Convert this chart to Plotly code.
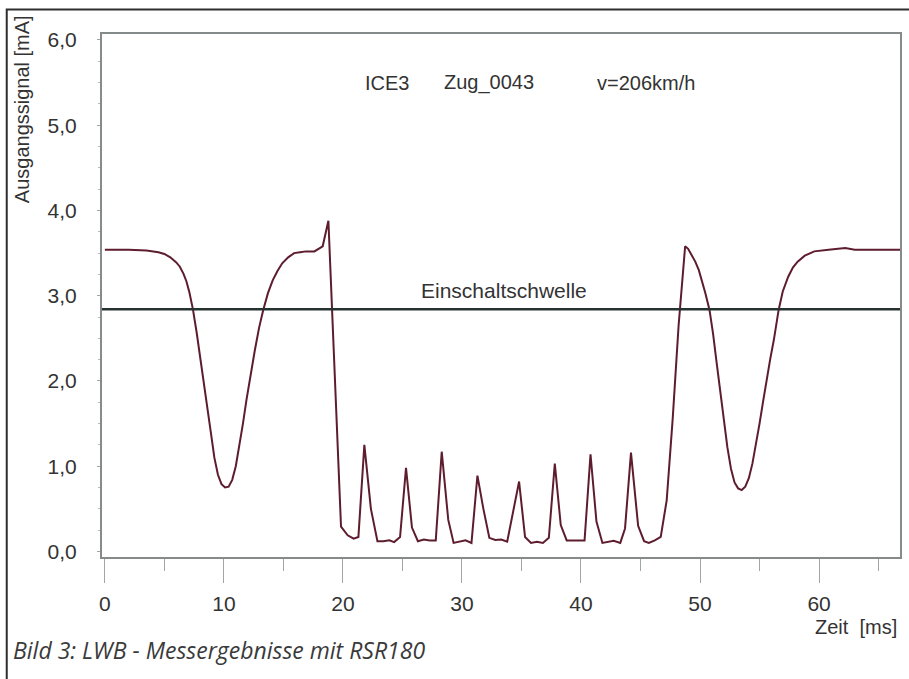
import plotly.graph_objects as go

# ---- data ----
time_ms = [0, 2, 3.5, 4.5, 5.0, 5.5, 6.0, 6.3, 6.6, 6.85, 7.1, 7.4, 7.7, 8.0, 8.3, 8.6,
           8.9, 9.2, 9.5, 9.8, 10.1, 10.4, 10.7, 11.0, 11.3, 11.6, 11.9, 12.2, 12.6,
           12.95, 13.3, 13.7, 14.1, 14.5, 14.9, 15.4, 15.9, 16.4, 16.9, 17.6, 18.3,
           18.78, 19.3, 19.84, 20.4, 20.9, 21.3, 21.8, 22.35, 22.9, 23.4, 23.9, 24.3,
           24.8, 25.3, 25.8, 26.3, 26.8, 27.3, 27.8, 28.3, 28.85, 29.3, 29.85, 30.3,
           30.8, 31.3, 31.8, 32.3, 32.8, 33.3, 33.8, 34.3, 34.8, 35.3, 35.8, 36.3,
           36.8, 37.3, 37.8, 38.3, 38.8, 39.3, 39.8, 40.3, 40.8, 41.3, 41.8, 42.3,
           42.75, 43.3, 43.7, 44.2, 44.8, 45.3, 45.7, 46.2, 46.7, 47.2, 47.7, 48.2,
           48.75, 49.0, 49.3, 49.6, 49.9, 50.15, 50.45, 50.8, 51.1, 51.4, 51.7, 52.0,
           52.3, 52.6, 52.9, 53.2, 53.5, 53.8, 54.1, 54.4, 54.7, 55.0, 55.3, 55.6,
           55.9, 56.2, 56.6, 56.95, 57.4, 57.8, 58.2, 58.8, 59.6, 60.8, 62.2, 63.0,
           66.8]
signal_mA = [3.54, 3.54, 3.53, 3.51, 3.49, 3.45, 3.39, 3.34, 3.26, 3.17, 3.04, 2.84, 2.58,
             2.30, 2.01, 1.71, 1.40, 1.10, 0.90, 0.79, 0.75, 0.76, 0.84, 1.00, 1.23, 1.50,
             1.78, 2.05, 2.36, 2.62, 2.83, 3.03, 3.18, 3.29, 3.38, 3.45, 3.50, 3.51, 3.52,
             3.52, 3.58, 3.88, 2.10, 0.29, 0.19, 0.15, 0.17, 1.25, 0.50, 0.12, 0.12, 0.13,
             0.11, 0.17, 0.98, 0.28, 0.12, 0.14, 0.13, 0.13, 1.17, 0.37, 0.10, 0.12, 0.13,
             0.10, 0.89, 0.50, 0.16, 0.135, 0.14, 0.115, 0.46, 0.82, 0.17, 0.10, 0.115,
             0.10, 0.16, 1.03, 0.31, 0.13, 0.13, 0.13, 0.13, 1.14, 0.35, 0.10, 0.115,
             0.125, 0.10, 0.27, 1.16, 0.30, 0.12, 0.10, 0.13, 0.17, 0.60, 1.55, 2.65,
             3.58, 3.55, 3.48, 3.40, 3.30, 3.18, 3.03, 2.83, 2.55, 2.21, 1.86, 1.53,
             1.22, 0.97, 0.81, 0.74, 0.72, 0.76, 0.86, 1.03, 1.25, 1.50, 1.76, 2.02,
             2.26, 2.48, 2.83, 3.05, 3.22, 3.33, 3.40, 3.47, 3.52, 3.54, 3.56, 3.54,
             3.54]
threshold_mA = 2.84
threshold_label = "Einschaltschwelle"
y_ticks = [0, 1, 2, 3, 4, 5, 6]
y_tick_labels = ["0,0", "1,0", "2,0", "3,0", "4,0", "5,0", "6,0"]
x_ticks = [0, 10, 20, 30, 40, 50, 60]
x_tick_labels = ["0", "10", "20", "30", "40", "50", "60"]
header_texts = ["ICE3", "Zug_0043", "v=206km/h"]
y_title = "Ausgangssignal [mA]"
x_title = "Zeit  [ms]"
caption = "Bild 3: LWB - Messergebnisse mit RSR180"

W, H = 909, 679
L, R, T, B = 102, 7, 34, 122
PW, PH = W - L - R, H - T - B


def px_x(p):
    return (p - L) / PW


def px_y(p):
    return (H - B - p) / PH


TXT = "#333333"
AX = "#858b8b"
FONT = "Liberation Sans"

fig = go.Figure()
fig.add_trace(go.Scatter(x=time_ms, y=signal_mA, mode="lines",
                         line=dict(color="#5e1d2e", width=2), showlegend=False,
                         hoverinfo="skip"))

fig.update_layout(
    width=W, height=H, margin=dict(l=L, r=R, t=T, b=B, pad=0),
    paper_bgcolor="white", plot_bgcolor="white",
    font=dict(family=FONT, size=20, color=TXT),
    xaxis=dict(range=[-0.24, 66.8], tickvals=x_ticks, ticktext=x_tick_labels,
               showgrid=False, zeroline=False, showline=True, linecolor=AX,
               linewidth=2, mirror=True, ticks="outside", ticklen=24, tickwidth=1.2,
               tickcolor="#a0a5a5", ticklabelstandoff=3,
               tickfont=dict(family=FONT, size=21, color=TXT),
               minor=dict(dtick=5, tick0=0, ticks="outside", ticklen=12,
                          tickwidth=1.2, tickcolor="#a0a5a5", showgrid=False)),
    yaxis=dict(range=[-0.065, 6.07], tickvals=y_ticks, ticktext=y_tick_labels,
               showgrid=False, zeroline=False, showline=True, linecolor=AX,
               linewidth=2, mirror=True, ticks="outside", ticklen=3, tickwidth=1.2,
               tickcolor="#a0a5a5", ticklabelstandoff=16,
               tickfont=dict(family=FONT, size=21, color=TXT),
               minor=dict(dtick=0.25, tick0=0, ticks="outside", ticklen=2,
                          tickwidth=1, tickcolor="#b5baba", showgrid=False)),
)

# threshold line
fig.add_shape(type="line", xref="paper", yref="y", x0=0, x1=1,
              y0=threshold_mA, y1=threshold_mA,
              line=dict(color="#263230", width=2.5), layer="above")

# outer frame
fig.add_shape(type="rect", xref="paper", yref="paper",
              x0=px_x(6.5), x1=px_x(960), y0=px_y(730), y1=px_y(9.5),
              line=dict(color="#2e2e2e", width=2), fillcolor="rgba(0,0,0,0)",
              layer="above")

ann = []
ann.append(dict(text=threshold_label, x=px_x(505), y=px_y(290), xref="paper", yref="paper",
                showarrow=False, xanchor="center", yanchor="middle",
                font=dict(family=FONT, size=21, color=TXT)))
for txt, xc in zip(header_texts, [388, 490, 647]):
    ann.append(dict(text=txt, x=px_x(xc), y=px_y(83), xref="paper", yref="paper",
                    showarrow=False, xanchor="center", yanchor="middle",
                    font=dict(family=FONT, size=20, color=TXT)))
ann.append(dict(text=y_title, x=px_x(22), y=px_y(109), xref="paper", yref="paper",
                showarrow=False, xanchor="center", yanchor="middle", textangle=-90,
                font=dict(family=FONT, size=20, color=TXT)))
ann.append(dict(text=x_title, x=px_x(901), y=px_y(627), xref="paper", yref="paper",
                showarrow=False, xanchor="right", yanchor="middle",
                font=dict(family=FONT, size=20, color=TXT)))
ann.append(dict(text="<i>" + caption + "</i>", x=px_x(11), y=px_y(650), xref="paper",
                yref="paper", showarrow=False, xanchor="left", yanchor="middle",
                font=dict(family="Open Sans", size=23, color="#3a3a3a")))
fig.update_layout(annotations=ann)

fig.write_html("out.html")
